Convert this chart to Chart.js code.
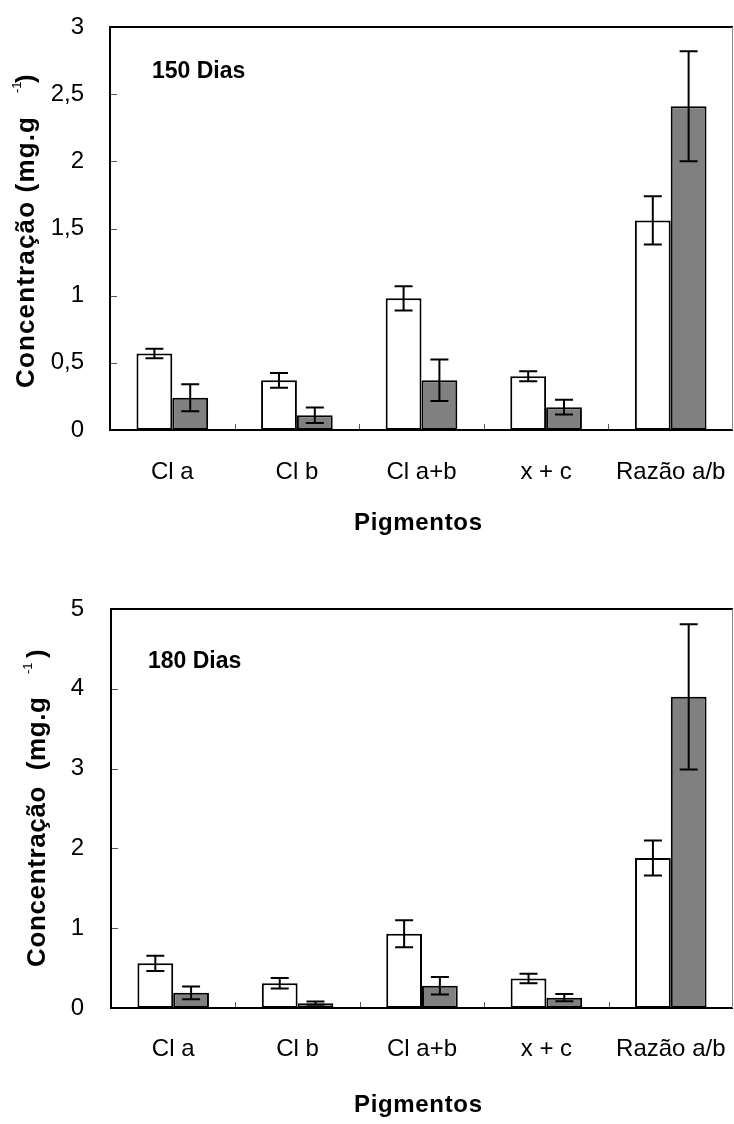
<!DOCTYPE html>
<html>
<head>
<meta charset="utf-8">
<script src="https://cdn.jsdelivr.net/npm/chart.js@4.4.0/dist/chart.umd.min.js"></script>
<style>
  body { margin: 0; background: #fff; }
  #wrap { position: relative; width: 734px; height: 1124px; }
  .box { position: absolute; left: 0; width: 734px; }
</style>
</head>
<body>
<div id="wrap">
  <div class="box" style="top:0;height:550px"><canvas id="chart150"></canvas></div>
  <div class="box" style="top:560px;height:564px"><canvas id="chart180"></canvas></div>
</div>
<script>
// Dados
const categories = ["Cl a", "Cl b", "Cl a+b", "x + c", "Razão a/b"];

// 150 dias
const white150 = [0.57, 0.37, 0.98, 0.40, 1.56];
const whiteErr150 = [0.035, 0.055, 0.09, 0.037, 0.18];
const gray150 = [0.24, 0.11, 0.37, 0.17, 2.41];
const grayErr150 = [0.10, 0.057, 0.155, 0.055, 0.41];

// 180 dias
const white180 = [0.56, 0.31, 0.93, 0.37, 1.88];
const whiteErr180 = [0.095, 0.065, 0.17, 0.06, 0.22];
const gray180 = [0.19, 0.06, 0.28, 0.13, 3.90];
const grayErr180 = [0.08, 0.02, 0.11, 0.045, 0.91];

const FONT = "'Liberation Sans', Arial, sans-serif";

// texto com espaçamento entre letras, ocupando "len" pixels a partir de x
function spacedText(ctx, text, x, y, len) {
  const chars = [...text];
  const w = ctx.measureText(text).width;
  const gap = chars.length > 1 ? (len - w) / (chars.length - 1) : 0;
  let u = x;
  chars.forEach((c) => {
    ctx.fillText(c, u, y);
    u += ctx.measureText(c).width + gap;
  });
}

// Desenho extra: moldura, marcas internas, barras de erro e textos
const extras = {
  id: "extras",
  afterDatasetsDraw(chart, args, o) {
    const ctx = chart.ctx;
    const { left, right, top, bottom } = chart.chartArea;
    const xs = chart.scales.x;
    const ys = chart.scales.y;
    ctx.save();

    // barras de erro
    ctx.strokeStyle = "#000";
    ctx.lineWidth = 2;
    chart.data.datasets.forEach((ds, i) => {
      chart.getDatasetMeta(i).data.forEach((bar, j) => {
        const v = ds.data[j];
        const e = ds.err[j];
        const y1 = ys.getPixelForValue(v + e);
        const y2 = ys.getPixelForValue(v - e);
        ctx.beginPath();
        ctx.moveTo(bar.x, y1);
        ctx.lineTo(bar.x, y2);
        ctx.moveTo(bar.x - 9, y1);
        ctx.lineTo(bar.x + 9, y1);
        ctx.moveTo(bar.x - 9, y2);
        ctx.lineTo(bar.x + 9, y2);
        ctx.stroke();
      });
    });

    // marcas internas
    ctx.strokeStyle = "#555";
    ctx.lineWidth = 1;
    ctx.beginPath();
    ys.ticks.forEach((t) => {
      if (t.value <= ys.min || t.value >= ys.max) return;
      const p = Math.round(ys.getPixelForValue(t.value)) + 0.5;
      ctx.moveTo(left, p);
      ctx.lineTo(left + 7, p);
    });
    for (let i = 1; i < categories.length; i++) {
      const p = Math.round((xs.getPixelForTick(i - 1) + xs.getPixelForTick(i)) / 2) + 0.5;
      ctx.moveTo(p, bottom);
      ctx.lineTo(p, bottom - 6);
    }
    ctx.stroke();

    // moldura
    ctx.strokeStyle = "#000";
    ctx.lineWidth = 2;
    ctx.beginPath();
    ctx.moveTo(right, top);
    ctx.lineTo(left, top);
    ctx.lineTo(left, bottom);
    ctx.lineTo(right, bottom);
    ctx.stroke();
    ctx.strokeStyle = "#888";
    ctx.lineWidth = 1;
    ctx.beginPath();
    ctx.moveTo(right - 0.5, top);
    ctx.lineTo(right - 0.5, bottom);
    ctx.stroke();

    // textos
    ctx.fillStyle = "#000";
    ctx.textBaseline = "alphabetic";
    ctx.textAlign = "left";
    ctx.font = "bold 23px " + FONT;
    ctx.fillText(o.label, o.labelX, o.labelY);

    ctx.font = "bold 24px " + FONT;
    spacedText(ctx, "Pigmentos", o.xTitleX - 64, o.xTitleY, 128);

    // título do eixo y com expoente
    ctx.translate(o.yTitleX, o.yTitleY);
    ctx.rotate(-Math.PI / 2);
    ctx.font = "bold 26px " + FONT;
    spacedText(ctx, o.yTitle, 0, 0, o.yLen);
    ctx.font = "13px " + FONT;
    ctx.fillText("-1", o.supU, -13);
    ctx.font = "bold 26px " + FONT;
    ctx.fillText(")", o.parU, 0);
    ctx.restore();
  },
};

function makeChart(id, o) {
  return new Chart(document.getElementById(id), {
    type: "bar",
    data: {
      labels: categories,
      datasets: [
        {
          data: o.white,
          err: o.whiteErr,
          backgroundColor: "#ffffff",
          borderColor: "#000000",
          borderWidth: 2,
          borderSkipped: false,
        },
        {
          data: o.gray,
          err: o.grayErr,
          backgroundColor: "#808080",
          borderColor: "#000000",
          borderWidth: 2,
          borderSkipped: false,
        },
      ],
    },
    options: {
      responsive: true,
      maintainAspectRatio: false,
      animation: false,
      layout: { padding: { top: o.top, right: 1, left: 0, bottom: 0 } },
      datasets: { bar: { categoryPercentage: 0.575, barPercentage: 1 } },
      plugins: {
        legend: { display: false },
        tooltip: { enabled: false },
        extras: o.extras,
      },
      scales: {
        x: {
          grid: { display: false },
          border: { display: false },
          ticks: {
            color: "#000",
            font: { family: FONT, size: 24 },
            padding: o.xPad,
            maxRotation: 0,
            autoSkip: false,
          },
          afterFit(s) {
            s.height = o.xHeight;
            s.paddingLeft = 0;
            s.paddingRight = 0;
          },
        },
        y: {
          min: 0,
          max: o.max,
          grid: { display: false },
          border: { display: false },
          ticks: {
            stepSize: o.step,
            color: "#000",
            font: { family: FONT, size: 24 },
            padding: o.yPad,
            callback: (v) => String(v).replace(".", ","),
          },
          afterFit(s) {
            s.width = o.yWidth;
            s.paddingTop = 0;
            s.paddingBottom = 0;
          },
        },
      },
    },
    plugins: [extras],
  });
}

makeChart("chart150", {
  white: white150, whiteErr: whiteErr150, gray: gray150, grayErr: grayErr150,
  max: 3, step: 0.5, top: 27, xHeight: 120, yWidth: 110, xPad: 20, yPad: 18,
  extras: {
    label: "150 Dias", labelX: 152, labelY: 78,
    xTitleX: 418, xTitleY: 530,
    yTitle: "Concentração (mg.g", yTitleX: 34, yTitleY: 388, yLen: 271,
    supU: 295, parU: 305,
  },
});

makeChart("chart180", {
  white: white180, whiteErr: whiteErr180, gray: gray180, grayErr: grayErr180,
  max: 5, step: 1, top: 49, xHeight: 116, yWidth: 111, xPad: 19, yPad: 19,
  extras: {
    label: "180 Dias", labelX: 148, labelY: 108,
    xTitleX: 418, xTitleY: 552,
    yTitle: "Concentração  (mg.g", yTitleX: 45, yTitleY: 407, yLen: 270,
    supU: 293, parU: 309,
  },
});
</script>
</body>
</html>
